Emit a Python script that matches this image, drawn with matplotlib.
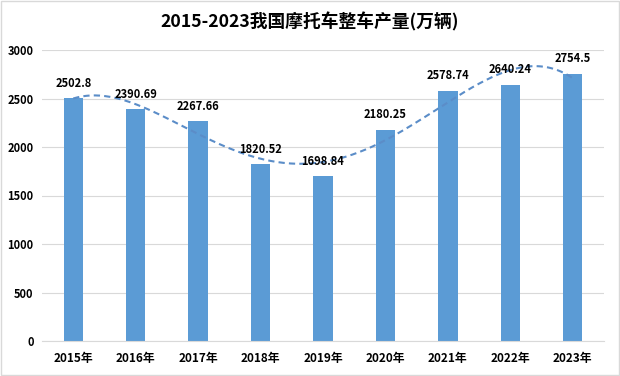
import numpy as np
import matplotlib
matplotlib.use("Agg")
import matplotlib.pyplot as plt
from matplotlib.patches import Rectangle

plt.rcParams['font.family'] = ['Noto Sans CJK SC', 'DejaVu Sans']

categories = ["2015年", "2016年", "2017年", "2018年", "2019年", "2020年", "2021年", "2022年", "2023年"]
values = [2502.8, 2390.69, 2267.66, 1820.52, 1698.84, 2180.25, 2578.74, 2640.24, 2754.5]
labels = ["2502.8", "2390.69", "2267.66", "1820.52", "1698.84", "2180.25", "2578.74", "2640.24", "2754.5"]
yticks = [0, 500, 1000, 1500, 2000, 2500, 3000]
title = "2015-2023我国摩托车整车产量(万辆)"

fig = plt.figure(figsize=(6.2, 3.76), dpi=100)
ax = fig.add_axes([42/620, 1-341/376, (604-42)/620, (341-50)/376])

x = np.arange(len(categories))
ax.bar(x, values, width=0.31, color="#5B9BD5", zorder=2)

# polynomial trendline (order 4) fitted to the data
coef = np.polyfit(x, values, 4)
xs = np.linspace(0, len(categories)-1, 300)
ax.plot(xs, np.polyval(coef, xs), linestyle=(0, (3, 2)), color="#5B8DC8", lw=1.5, zorder=3)

for xi, v, lab in zip(x, values, labels):
    ax.annotate(lab, (xi, v), xytext=(0, 10.8), textcoords="offset points",
                ha="center", va="center", fontsize=8, fontweight="bold", zorder=4)

ax.set_xlim(-0.5, len(categories)-0.5)
ax.set_ylim(0, 3000)
ax.set_yticks(yticks)
ax.set_yticklabels([str(t) for t in yticks], fontsize=8, fontweight="bold")
ax.set_xticks(x)
ax.set_xticklabels(categories, fontsize=8.5, fontweight="bold")
ax.grid(axis="y", color="#D9D9D9", lw=0.8, zorder=0)
for s in ["top", "right", "left"]:
    ax.spines[s].set_visible(False)
ax.spines["bottom"].set_color("#D9D9D9")
ax.tick_params(axis="y", length=0, pad=6)
ax.tick_params(axis="x", length=0, pad=8)

t = fig.text(310/620, 1-22/376, title, ha="center", va="center", fontsize=12, fontweight="bold")
fig.canvas.draw()
w = t.get_window_extent().width
t.set_fontsize(12 * 298 / w)

fig.patches.append(Rectangle((0.002, 0.003), 0.996, 0.994, transform=fig.transFigure,
                             fill=False, edgecolor="#D9D9D9", lw=1))

fig.savefig("out.png", dpi=100)
